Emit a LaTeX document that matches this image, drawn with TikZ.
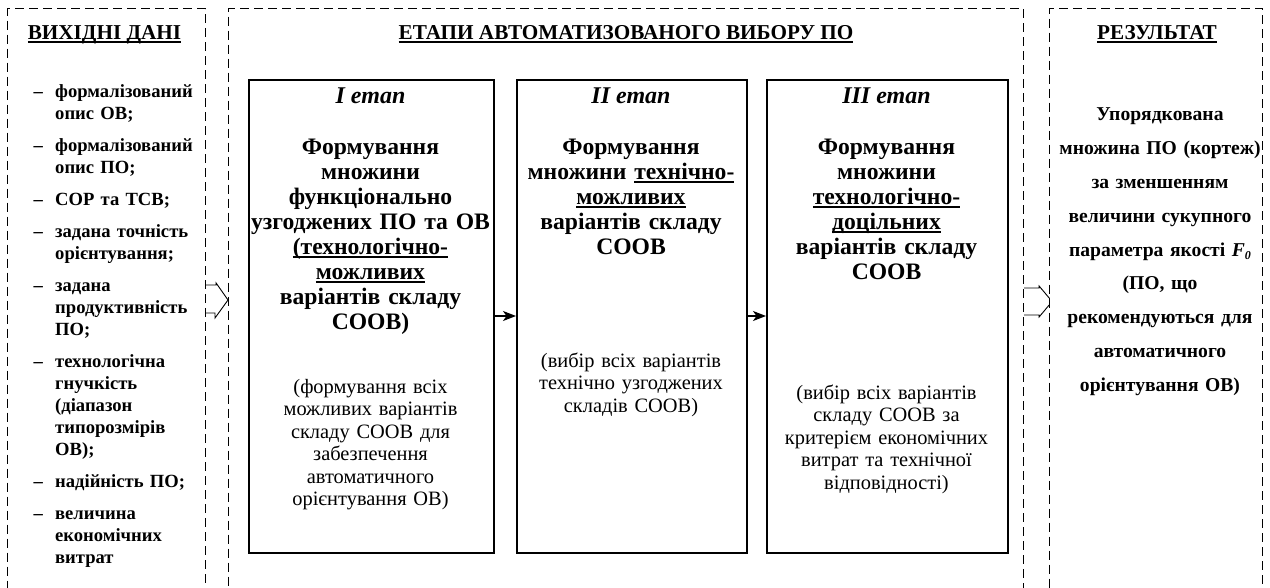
\documentclass[tikz,border=0pt]{standalone}
\usepackage{fontspec}
\setmainfont{Liberation Serif}
\usetikzlibrary{arrows.meta}

% thick underline that sits a little below the baseline
\newcommand\undl[1]{\leavevmode\setbox0=\hbox{#1}\rlap{\rule[-3pt]{\wd0}{1.5pt}}\box0}
% one entry of the input list: an en dash with hanging text
\newcommand\dashitem[1]{\hangindent=21.5pt\hangafter=1\noindent\makebox[21.5pt][l]{–}#1\par}

\tikzset{
  column/.style={draw, line width=1.1pt, dash pattern=on 9pt off 5pt, inner sep=0pt, anchor=north west},
  stagebox/.style={draw, line width=1.6pt, inner sep=0pt, anchor=north west, minimum height=473pt},
  hollow/.style={draw, line width=0.9pt, line join=miter},
  flow/.style={line width=1.1pt, -{Stealth[length=13pt,width=10pt,inset=3.5pt]}},
  coltitle/.style={anchor=base, inner sep=0pt, font=\fontsize{21.2}{24}\selectfont\bfseries},
  stagelabel/.style={anchor=base, inner sep=0pt, font=\fontsize{24}{24}\selectfont\bfseries\itshape},
  stagehead/.style={anchor=base, inner sep=0pt, align=center, font=\fontsize{23.6}{25}\selectfont\bfseries},
  stagenote/.style={anchor=base, inner sep=0pt, align=center, font=\fontsize{20.4}{22.5}\selectfont},
}

\begin{document}
\begin{tikzpicture}[x=1pt,y=-1pt]
\useasboundingbox (0,0) rectangle (1270,588);

% the three dashed columns
\node[column, minimum width=198pt, minimum height=600pt] (inbox) at (7,8) {};
\node[column, minimum width=795pt, minimum height=600pt] (stages) at (228,8) {};

% column headings
\node[coltitle] (intitle) at (104.5,40) {\undl{ВИХІДНІ ДАНІ}};
\node[coltitle] (stagestitle) at (626,40) {\undl{ЕТАПИ АВТОМАТИЗОВАНОГО ВИБОРУ ПО}};

% input data list
\node[anchor=base west, inner sep=0pt, text width=172pt, align=left,
      font=\fontsize{18.6}{22}\selectfont\bfseries] (inputs) at (33.5,98) {%
  \setlength\parskip{10pt}%
  \dashitem{формалізований\newline опис ОВ;}
  \dashitem{формалізований\newline опис ПО;}
  \dashitem{СОР та ТСВ;}
  \dashitem{задана точність\newline орієнтування;}
  \dashitem{задана\newline продуктивність\newline ПО;}
  \dashitem{технологічна\newline гнучкість\newline (діапазон\newline типорозмірів\newline ОВ);}
  \dashitem{надійність ПО;}
  \dashitem{величина\newline економічних\newline витрат}};

% stage boxes
\node[stagebox, minimum width=245pt] (s1) at (248,79) {};
\node[stagebox, minimum width=230pt] (s2) at (516,79) {};
\node[stagebox, minimum width=241pt] (s3) at (766,79) {};

\node[stagelabel] (l1) at (370.5,104) {I етап};
\node[stagelabel] (l2) at (631,104) {II етап};
\node[stagelabel] (l3) at (886.5,104) {III етап};

\node[stagehead, text width=240pt] (h1) at (370.5,155) {Формування\\ множини\\ функціонально\\ узгоджених ПО та ОВ\\ \undl{(технологічно-}\\ \undl{можливих}\\ варіантів складу\\ СООВ)};
\node[stagehead, text width=225pt] (h2) at (631,155) {Формування\\ множини \undl{технічно-}\\ \undl{можливих}\\ варіантів складу\\ СООВ};
\node[stagehead, text width=236pt] (h3) at (886.5,155) {Формування\\ множини\\ \undl{технологічно-}\\ \undl{доцільних}\\ варіантів складу\\ СООВ};

\node[stagenote, text width=240pt] (n1) at (370.5,393) {(формування всіх\\ можливих варіантів\\ складу СООВ для\\ забезпечення\\ автоматичного\\ орієнтування ОВ)};
\node[stagenote, text width=225pt] (n2) at (631,367) {(вибір всіх варіантів\\ технічно узгоджених\\ складів СООВ)};
\node[stagenote, text width=236pt] (n3) at (886.5,399) {(вибір всіх варіантів\\ складу СООВ за\\ критерієм економічних\\ витрат та технічної\\ відповідності)};

% arrows between the stages
\coordinate (arrowrow) at (0,316);
\draw[flow] (s1.east |- arrowrow) -- (s2.west |- arrowrow);
\draw[flow] (s2.east |- arrowrow) -- (s3.west |- arrowrow);

% hollow arrows between the columns
\coordinate (ha) at (0,300);
\coordinate (hb) at (0,301.5);
\draw[hollow] (inbox.east |- ha) ++(0,-15) -- ++(10,0) -- ++(0,-2) -- (stages.west |- ha)
  -- ++(-13,18) -- ++(0,-5) -- ++(-10,0);
\draw[hollow] (stages.east |- hb) ++(0,-13.5) -- ++(15,0) -- ++(0,-2) -- ++(13,15.5)
  -- ++(-13,15.5) -- ++(0,-2) -- ++(-15,0);

% result column (drawn last so it covers the arrow tip)
\node[column, fill=white, minimum width=213pt, minimum height=600pt] (outbox) at (1049,8) {};
\node[coltitle] (outtitle) at (1157,40) {\undl{РЕЗУЛЬТАТ}};
\node[anchor=base, inner sep=0pt, text width=215pt, align=center,
      font=\fontsize{19.6}{33.8}\selectfont\bfseries] (result) at (1160,121) {Упорядкована\\ множина ПО (кортеж)\\ за зменшенням\\ величини сукупного\\ параметра якості \textit{F}\raisebox{-3pt}{\fontsize{12}{12}\selectfont\textit{0}}\\ (ПО, що\\ рекомендуються для\\ автоматичного\\ орієнтування ОВ)};
\end{tikzpicture}
\end{document}
